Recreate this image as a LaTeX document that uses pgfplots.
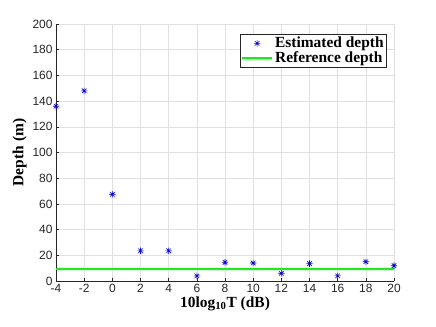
\documentclass[border=0pt]{standalone}
\usepackage{pgfplots}
\pgfplotsset{compat=1.18}
\usepackage{fontspec}
\setmainfont{Liberation Serif}
\newfontfamily\ticksf{Liberation Sans}
\definecolor{axgray}{gray}{0.15}
\definecolor{gridgray}{gray}{0.88}
\pgfdeclareplotmark{mstar}{%
  \pgfpathmoveto{\pgfqpoint{-\pgfplotmarksize}{0pt}}\pgfpathlineto{\pgfqpoint{\pgfplotmarksize}{0pt}}%
  \pgfpathmoveto{\pgfqpoint{0pt}{-\pgfplotmarksize}}\pgfpathlineto{\pgfqpoint{0pt}{\pgfplotmarksize}}%
  \pgfpathmoveto{\pgfqpoint{-0.707\pgfplotmarksize}{-0.707\pgfplotmarksize}}\pgfpathlineto{\pgfqpoint{0.707\pgfplotmarksize}{0.707\pgfplotmarksize}}%
  \pgfpathmoveto{\pgfqpoint{-0.707\pgfplotmarksize}{0.707\pgfplotmarksize}}\pgfpathlineto{\pgfqpoint{0.707\pgfplotmarksize}{-0.707\pgfplotmarksize}}%
  \pgfusepathqstroke}
\pgfplotsset{
  legmark/.style={legend image code/.code={\draw[##1] plot coordinates {(0.53cm,0cm)};}},
  legline/.style={legend image code/.code={\draw[##1] (0cm,0cm) -- (1.06cm,0cm);}},
}
\begin{document}
\begin{tikzpicture}
\useasboundingbox (0,0) rectangle (436bp,327bp);
\begin{axis}[
  at={(56bp,46bp)}, anchor=south west, scale only axis,
  width=338bp, height=257bp,
  xmin=-4, xmax=20, ymin=0, ymax=200,
  xtick={-4,-2,...,20}, ytick={0,20,...,200},
  axis lines*=left,
  axis line style={axgray, line width=0.5pt, -},
  tick style={axgray, line width=0.5pt},
  tick align=inside, major tick length=3bp,
  grid=major, major grid style={gridgray, line width=0.5pt},
  ticklabel style={font=\ticksf\fontsize{12}{14}\selectfont, text=axgray},
  /pgf/number format/assume math mode=true,
  xlabel={\textbf{10log\textsubscript{10}T (dB)}},
  ylabel={\textbf{Depth (m)}},
  label style={font=\fontsize{15.5}{18}\selectfont},
  xlabel style={yshift=3bp},
  ylabel style={yshift=-1bp},
  legend style={at={(0.979,0.961)}, anchor=north east, draw=axgray, line width=0.5pt,
    font=\bfseries\fontsize{15.5}{17}\selectfont, inner sep=1pt, row sep=-2pt,
    legend cell align=left},
  clip=false,
]
\addplot[only marks, mark=mstar, mark size=3.2pt, color=blue, line width=0.6pt, legmark]
coordinates {(-4,136) (-2,148) (0,67.5) (2,23.5) (4,23.5) (6,4) (8,14.5) (10,14) (12,6) (14,13.5) (16,4) (18,15) (20,12)};
\addlegendentry{Estimated depth}
\addplot[color=green, line width=2pt, no marks, legline]
coordinates {(-4,9.3) (20,9.3)};
\addlegendentry{Reference depth}
\end{axis}
\end{tikzpicture}
\end{document}
